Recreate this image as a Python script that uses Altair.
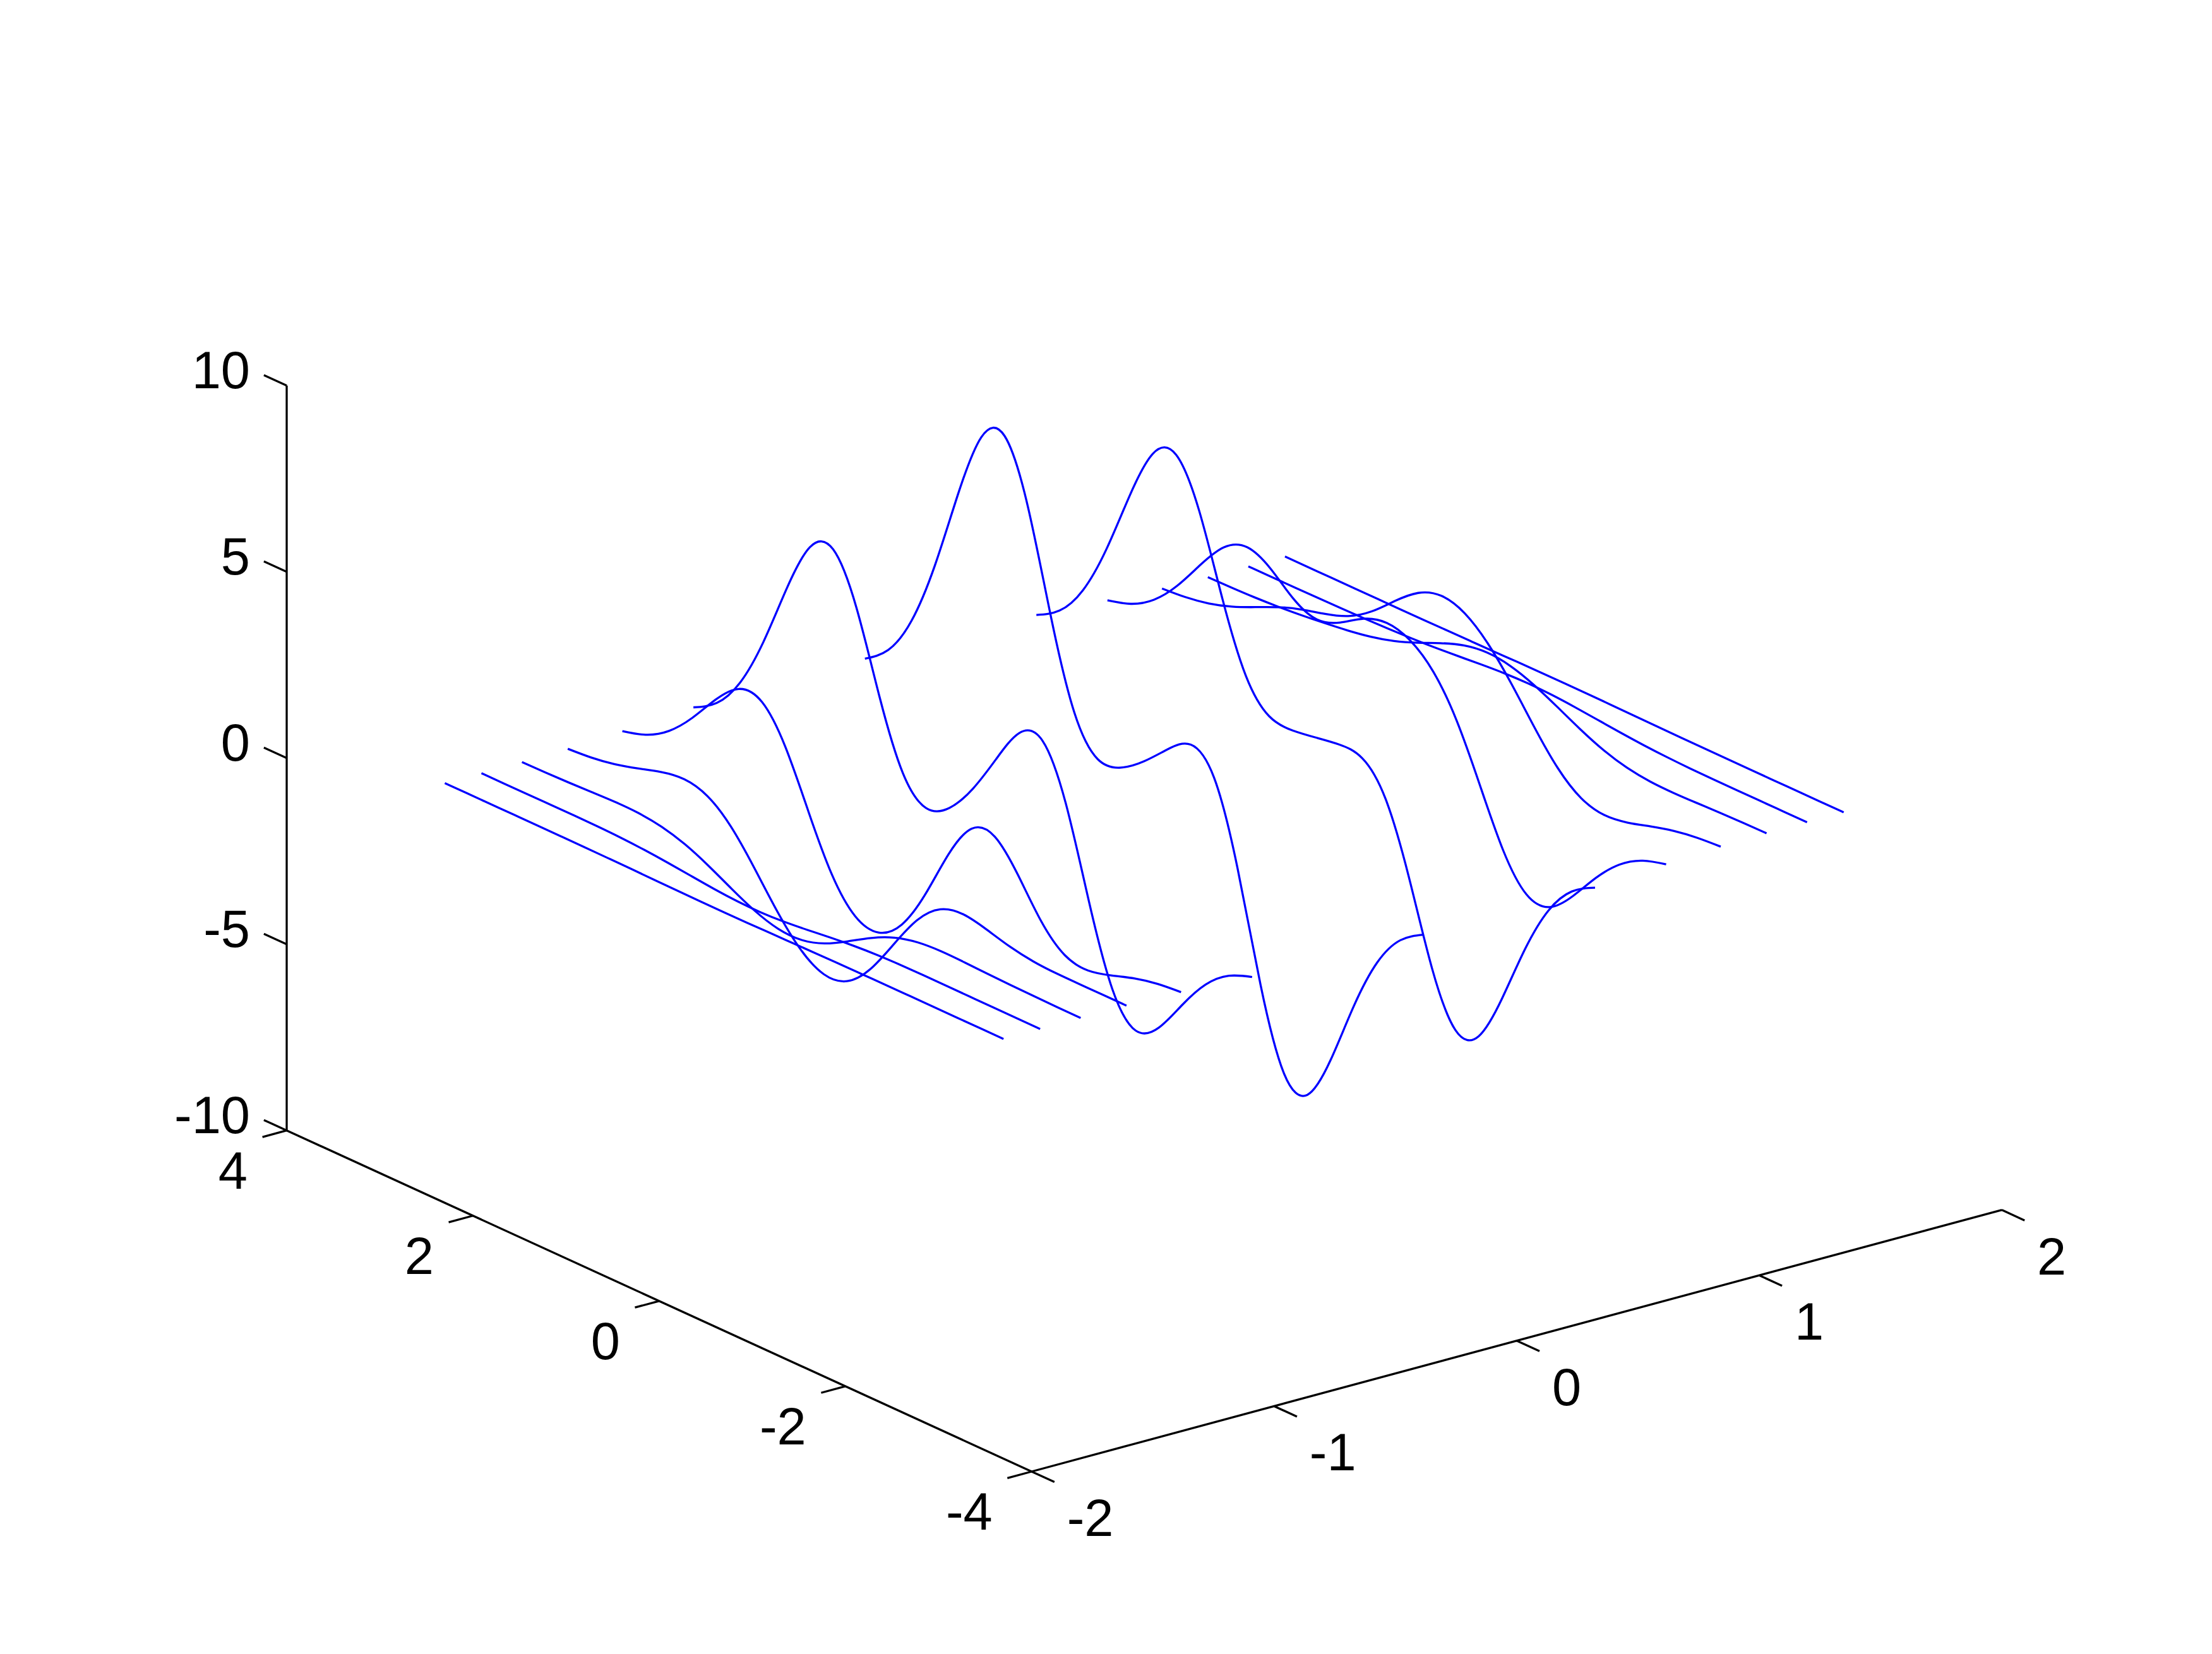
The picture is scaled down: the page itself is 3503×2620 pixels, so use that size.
import altair as alt
import pandas as pd

# 3-D values
y_grid = [-3, -2.75, -2.5, -2.25, -2, -1.75, -1.5, -1.25, -1, -0.75, -0.5, -0.25, 0,
          0.25, 0.5, 0.75, 1, 1.25, 1.5, 1.75, 2, 2.25, 2.5, 2.75, 3]
x_lines = [-1.732, -1.581, -1.414, -1.225, -1, -0.707, 0, 0.707, 1, 1.225, 1.414, 1.581, 1.732]

z_m1732 = [0, 0, 0, .001, .001, .001, -.001, -.003, -.009, -.017, -.025, -.033, -.037,
           -.035, -.030, -.022, -.014, -.008, -.003, -.001, 0, 0, 0, 0, 0]
z_m1581 = [.001, .002, .003, .006, .009, .010, .005, -.014, -.057, -.122, -.200, -.267, -.301,
           -.292, -.247, -.180, -.112, -.056, -.019, -.001, .005, .005, .003, .001, .001]
z_m1414 = [.003, .007, .015, .027, .047, .070, .079, .030, -.130, -.424, -.799, -1.142, -1.333,
           -1.319, -1.123, -.815, -.481, -.197, -.012, .070, .080, .057, .032, .014, .005]
z_m1225 = [.004, .005, .003, .007, .045, .153, .326, .448, .300, -.281, -1.213, -2.164, -2.774,
           -2.874, -2.493, -1.760, -.864, -.047, .478, .647, .554, .363, .192, .084, .031]
z_m1000 = [-.030, -.096, -.234, -.438, -.592, -.463, .148, 1.108, 1.856, 1.783, .798, -.565, -1.652,
           -2.149, -1.997, -1.163, .229, 1.694, 2.608, 2.674, 2.097, 1.322, .687, .299, .110]
z_m0707 = [-.137, -.391, -.915, -1.744, -2.639, -3.007, -2.187, -.138, 2.225, 3.627, 3.552, 2.562, 1.480,
           .682, .390, 1.040, 2.794, 4.919, 6.195, 5.962, 4.557, 2.840, 1.467, .637, .233]
z_0000 = [-.244, -.678, -1.569, -3.022, -4.760, -5.976, -5.681, -3.604, -.724, 1.396, 1.998, 1.585, .981,
          .523, .464, 1.423, 3.689, 6.389, 7.997, 7.676, 5.859, 3.649, 1.885, .818, .299]
z_p0707 = [-.222, -.610, -1.406, -2.719, -4.347, -5.641, -5.761, -4.399, -2.222, -.413, .390, .476, .375,
           .280, .375, 1.172, 2.935, 5.018, 6.251, 5.989, 4.568, 2.844, 1.468, .637, .233]
z_p1000 = [-.110, -.299, -.688, -1.324, -2.103, -2.688, -2.635, -1.738, -.273, 1.176, 2.198, 2.756, 2.937,
           2.762, 2.377, 2.171, 2.434, 2.969, 3.254, 2.963, 2.210, 1.361, .699, .302, .110]
z_p1225 = [-.030, -.081, -.184, -.348, -.529, -.613, -.441, .079, .883, 1.778, 2.559, 3.088, 3.269,
           3.061, 2.557, 1.992, 1.581, 1.354, 1.185, .961, .677, .405, .205, .088, .032]
z_p1414 = [-.004, -.012, -.026, -.047, -.062, -.044, .043, .226, .500, .820, 1.122, 1.339, 1.412,
           1.319, 1.094, .821, .580, .409, .293, .206, .133, .076, .037, .016, .006]
z_p1581 = [0, -.001, -.002, -.003, -.001, .006, .026, .061, .113, .176, .237, .282, .297,
           .277, .229, .170, .115, .074, .046, .029, .017, .009, .004, .002, .001]
z_p1732 = [0, 0, 0, 0, 0, .001, .003, .007, .013, .020, .027, .032, .033,
           .031, .027, .019, .013, .008, .004, .002, .001, 0, 0, 0, 0]
z_lines = [z_m1732, z_m1581, z_m1414, z_m1225, z_m1000, z_m0707, z_0000,
           z_p0707, z_p1000, z_p1225, z_p1414, z_p1581, z_p1732]

x_ticks = [-2, -1, 0, 1, 2]
y_ticks = [-4, -2, 0, 2, 4]
z_ticks = [-10, -5, 0, 5, 10]
x_lim, y_lim, z_lim = (-2, 2), (-4, 4), (-10, 10)

# view: where the axes box sits on the canvas
FRONT_X, FRONT_Y = 1633.7, 2331.0   # x=-2, y=-4, z=-10
X_DX, X_DY = 384.1, -103.6
Y_DX, Y_DY = -147.46, -67.54
Z_DY = -59.0
BLUE = "#0000ff"
FONT = "Liberation Sans"
FONT_SIZE = 83
W, H = 3487, 2604

px = f"{FRONT_X} + {X_DX}*(datum.x+2) + {Y_DX}*(datum.y+4)"
py = f"{FRONT_Y} + {X_DY}*(datum.x+2) + {Y_DY}*(datum.y+4) + {Z_DY}*(datum.z+10)"
sx = alt.X("px:Q", scale=alt.Scale(domain=[8, 3495]), axis=None)
sy = alt.Y("py:Q", scale=alt.Scale(domain=[2612, 8]), axis=None)

curve_rows = [
    {"curve": i, "step": j, "x": xv, "y": yv, "z": zv}
    for i, (xv, zs) in enumerate(zip(x_lines, z_lines))
    for j, (yv, zv) in enumerate(zip(y_grid, zs))
]
curves = (
    alt.Chart(pd.DataFrame(curve_rows))
    .transform_calculate(px=px, py=py)
    .mark_line(color=BLUE, strokeWidth=3.3, interpolate="natural", clip=False)
    .encode(x=sx, y=sy, detail="curve:N", order="step:Q")
)

# axis lines and tick marks
segs = [
    [(x_lim[0], y_lim[0], z_lim[0]), (x_lim[1], y_lim[0], z_lim[0])],
    [(x_lim[0], y_lim[0], z_lim[0]), (x_lim[0], y_lim[1], z_lim[0])],
    [(x_lim[0], y_lim[1], z_lim[0]), (x_lim[0], y_lim[1], z_lim[1])],
]
X_TICK, Y_TICK, Z_TICK = 0.245, 0.1, 0.245
for t in x_ticks:
    segs.append([(t, y_lim[0], z_lim[0]), (t, y_lim[0] - X_TICK, z_lim[0])])
for t in y_ticks:
    segs.append([(x_lim[0], t, z_lim[0]), (x_lim[0] - Y_TICK, t, z_lim[0])])
for t in z_ticks:
    segs.append([(x_lim[0], y_lim[1], t), (x_lim[0], y_lim[1] + Z_TICK, t)])
seg_rows = [
    {"seg": i, "step": j, "x": p[0], "y": p[1], "z": p[2]}
    for i, s in enumerate(segs) for j, p in enumerate(s)
]
axes_lines = (
    alt.Chart(pd.DataFrame(seg_rows))
    .transform_calculate(px=px, py=py)
    .mark_line(color="black", strokeWidth=3.3, clip=False)
    .encode(x=sx, y=sy, detail="seg:N", order="step:Q")
)


def labels(rows, **kw):
    return (
        alt.Chart(pd.DataFrame(rows))
        .transform_calculate(px=px, py=py)
        .mark_text(font=FONT, fontSize=FONT_SIZE, color="black", baseline="alphabetic", **kw)
        .encode(x=sx, y=sy, text="label:N")
    )


x_labels = labels([{"x": t, "y": y_lim[0], "z": z_lim[0], "label": str(t)} for t in x_ticks],
                  align="left", dx=56, dy=102)
y_labels = labels([{"x": x_lim[0], "y": t, "z": z_lim[0], "label": str(t)} for t in y_ticks],
                  align="right", dx=-62, dy=92)
z_labels = labels([{"x": x_lim[0], "y": y_lim[1], "z": t, "label": str(t)} for t in z_ticks],
                  align="right", dx=-58, dy=4)

chart = (
    alt.layer(curves, axes_lines, x_labels, y_labels, z_labels)
    .properties(width=W, height=H, padding=0, background="white")
    .configure_view(stroke=None)
)
chart.save("out.html", embed_options={"renderer": "svg", "actions": False})
